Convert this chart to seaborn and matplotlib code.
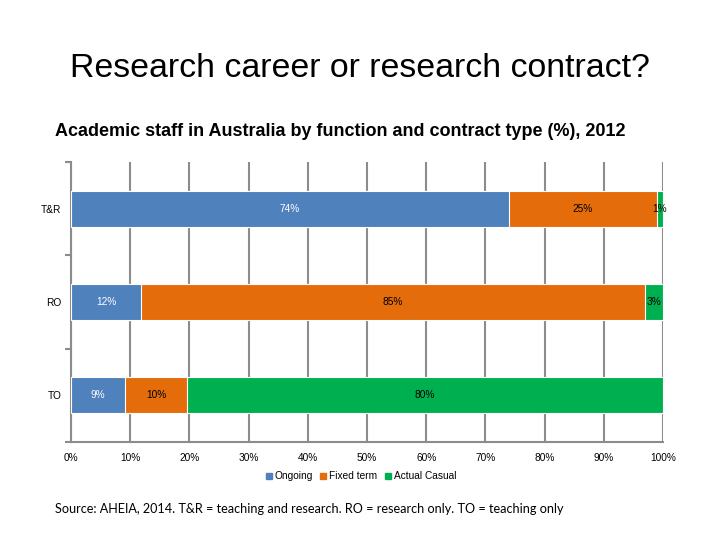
import numpy as np
import pandas as pd
import seaborn as sns
import matplotlib.pyplot as plt
from matplotlib.lines import Line2D

# datos
functions = ["T&R", "RO", "TO"]
ongoing = [74.0, 11.8, 9.2]
fixed_term = [25.0, 85.2, 10.4]
casual = [1.0, 3.0, 80.4]
series_names = ["Ongoing", "Fixed term", "Actual Casual"]
colors = ["#4F81BD", "#E46C0A", "#00B050"]
label_colors = ["white", "black", "black"]

df = pd.DataFrame({"function": functions, "Ongoing": ongoing,
                   "Fixed term": fixed_term, "Actual Casual": casual})
cum = df[series_names].cumsum(axis=1)

sns.set_style("white")
plt.rcParams["font.family"] = ["Liberation Sans", "DejaVu Sans"]
plt.rcParams["text.color"] = "black"
plt.rcParams["xtick.labelcolor"] = "black"
plt.rcParams["ytick.labelcolor"] = "black"

fig = plt.figure(figsize=(7.2, 5.4), dpi=100)
ax = fig.add_axes([0.0986, 0.1815, 0.8222, 0.5185])

# barras apiladas: primero el total, luego los acumulados menores
for name, col in reversed(list(zip(series_names, colors))):
    sns.barplot(x=cum[name], y=df["function"], color=col, orient="h", saturation=1,
                width=0.387, edgecolor="white", linewidth=0.8, ax=ax, zorder=3)

# etiquetas de cada segmento
for i, f in enumerate(functions):
    start = 0
    for name, lc in zip(series_names, label_colors):
        v = df.loc[i, name]
        ax.text(start + v / 2, i, f"{round(v)}%", ha="center", va="center",
                fontsize=7.3, color=lc, zorder=5)
        start += v

ax.set_xlim(0, 100)
ax.set_ylim(2.5, -0.5)
ax.set_xticks(np.arange(0, 101, 10))
ax.set_xticklabels([f"{t}%" for t in range(0, 101, 10)], fontsize=7.3)
ax.xaxis.grid(True, color="#8C8C8C", linewidth=1.5, zorder=0)
ax.set_axisbelow(True)
ax.set_xlabel("")
ax.set_ylabel("")
ax.tick_params(axis="x", length=4, width=1.5, color="#8C8C8C", direction="out", pad=4)
ax.tick_params(axis="y", length=0, labelsize=7.3, pad=7)
ax.set_yticks([-0.5, 0.5, 1.5, 2.5], minor=True)
ax.tick_params(axis="y", which="minor", length=4, width=1.5, color="#8C8C8C", left=True)

for s in ["top", "right"]:
    ax.spines[s].set_visible(False)
for s in ["left", "bottom"]:
    ax.spines[s].set_color("#8C8C8C")
    ax.spines[s].set_linewidth(1.5)

handles = [Line2D([0], [0], marker="s", linestyle="", markersize=4,
                  markerfacecolor=c, markeredgecolor=c) for c in colors]
fig.legend(handles, series_names, loc="center", bbox_to_anchor=(0.5, 0.118),
           ncol=3, frameon=False, fontsize=7.3, handletextpad=0.1,
           columnspacing=0.5, handlelength=1.0)

fig.text(0.5, 0.874, "Research career or research contract?", ha="center",
         va="center", fontsize=24.4)
fig.text(0.076, 0.757, "Academic staff in Australia by function and contract type (%), 2012",
         ha="left", va="center", fontsize=12.95, fontweight="bold")
fig.text(0.076, 0.057, "Source: AHEIA, 2014. T&R = teaching and research. RO = research only. TO = teaching only",
         ha="left", va="center", fontsize=9.1, family=["Lato", "DejaVu Sans"])

fig.savefig("out.png", dpi=100)
